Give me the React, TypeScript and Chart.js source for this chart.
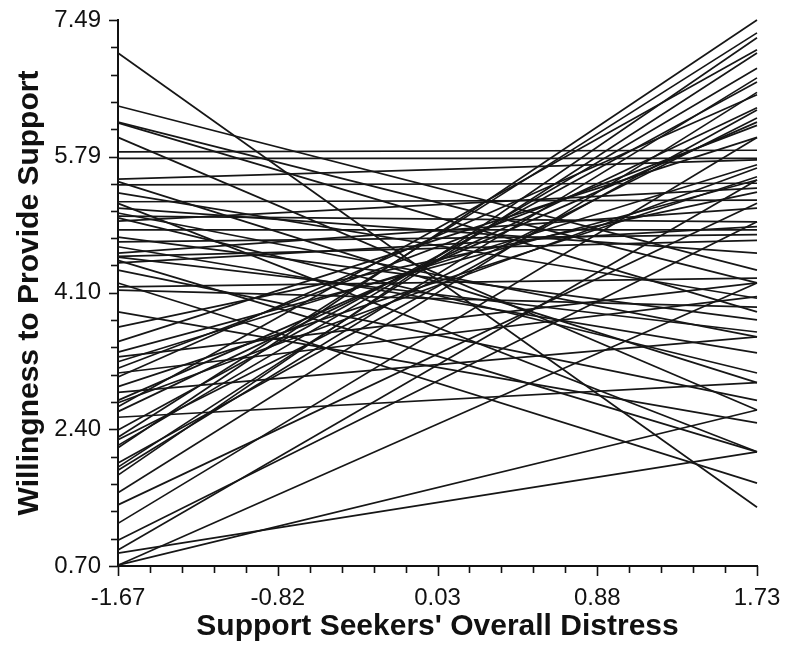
import React, { useEffect, useRef } from 'react';
import { Chart, registerables } from 'chart.js';

Chart.register(...registerables);

// Axis ticks (major)
const xTickValues = [-1.67, -0.82, 0.03, 0.88, 1.73];
const yTickValues = [0.7, 2.4, 4.1, 5.79, 7.49];

// The two x positions each line is drawn between
const xStart = -1.67;
const xEnd = 1.73;

// Line values at the left edge (x = -1.67)
const leftValues = [
  7.08, 6.42, 6.22, 6.21, 6.03, 5.85, 5.77, 5.51, 5.48, 5.44,
  5.34, 5.23, 5.21, 5.15, 5.09, 5.05, 5.03, 4.99, 4.88, 4.79,
  4.73, 4.67, 4.59, 4.55, 4.54, 4.5, 4.47, 4.38, 4.22, 4.17,
  4.13, 3.86, 3.67, 3.49, 3.36, 3.3, 3.24, 3.16, 3.1, 3.05,
  2.93, 2.86, 2.76, 2.73, 2.68, 2.62, 2.55, 2.39, 2.3, 2.27,
  2.2, 2.17, 1.98, 1.93, 1.89, 1.83, 1.61, 1.46, 1.23, 1.02,
  0.9, 0.86, 0.71, 0.71,
];

// Line values at the right edge (x = 1.73)
const rightValues = [
  1.43, 4.38, 4.22, 3.86, 2.64, 5.87, 5.77, 5.75, 2.98, 5.46,
  4.03, 5.25, 2.12, 4.59, 3.55, 4.98, 3.1, 5.4, 4.88, 3.76,
  4.82, 3.35, 5.15, 4.75, 3.61, 2.12, 4.92, 2.76, 1.73, 4.28,
  3.92, 2.48, 5.35, 6.03, 5.5, 4.22, 5.69, 6.18, 4.05, 6.56,
  5.54, 3.55, 6.22, 5.65, 7.12, 6.4, 2.98, 6.72, 7.33, 6.27,
  6.89, 7.49, 6.37, 7.08, 6.77, 7.27, 6.59, 5.21, 6.03, 4.98,
  5.5, 2.12, 2.64, 4.22,
];

const xTitle = "Support Seekers' Overall Distress";
const yTitle = 'Willingness to Provide Support';

const FONT = '"Liberation Sans", Arial, Helvetica, sans-serif';

function withMinor(majors: number[], parts: number) {
  const out: { v: number; major: boolean }[] = [];
  for (let i = 0; i < majors.length; i++) {
    out.push({ v: majors[i], major: true });
    if (i < majors.length - 1) {
      const step = (majors[i + 1] - majors[i]) / parts;
      for (let k = 1; k < parts; k++) out.push({ v: majors[i] + step * k, major: false });
    }
  }
  return out;
}

const tickPlugin = {
  id: 'axisTicks',
  afterDraw(chart: any) {
    const { ctx, scales } = chart;
    const xs = scales.x;
    const ys = scales.y;
    ctx.save();
    ctx.strokeStyle = '#111';
    ctx.lineWidth = 1.6;
    const axisY = ys.getPixelForValue(yTickValues[0]);
    const axisX = xs.getPixelForValue(xTickValues[0]);
    for (const t of withMinor(xTickValues, 5)) {
      const px = Math.round(xs.getPixelForValue(t.v)) + 0.5;
      ctx.beginPath();
      ctx.moveTo(px, axisY);
      ctx.lineTo(px, axisY + (t.major ? 10 : 7));
      ctx.stroke();
    }
    for (const t of withMinor(yTickValues, 5)) {
      const py = Math.round(ys.getPixelForValue(t.v)) + 0.5;
      ctx.beginPath();
      ctx.moveTo(axisX, py);
      ctx.lineTo(axisX - (t.major ? 9 : 7), py);
      ctx.stroke();
    }
    ctx.restore();
  },
};

export default function App() {
  const canvasRef = useRef<HTMLCanvasElement | null>(null);

  useEffect(() => {
    document.body.style.margin = '0';
    const canvas = canvasRef.current;
    if (!canvas) return;
    const datasets = leftValues.map((l, i) => ({
      data: [
        { x: xStart, y: l },
        { x: xEnd, y: rightValues[i] },
      ],
      showLine: true,
      borderColor: '#161616',
      borderWidth: 1.7,
      pointRadius: 0,
      fill: false,
      clip: false as any,
    }));
    const chart = new Chart(canvas, {
      type: 'scatter',
      data: { datasets },
      options: {
        responsive: false,
        animation: false,
        devicePixelRatio: 1,
        layout: { autoPadding: false, padding: { top: 20, right: 31, bottom: 0, left: 0 } },
        plugins: {
          legend: { display: false },
          tooltip: { enabled: false },
        },
        scales: {
          x: {
            type: 'linear',
            min: xStart,
            max: xEnd,
            afterBuildTicks: (scale: any) => {
              scale.ticks = xTickValues.map((v) => ({ value: v }));
            },
            afterFit: (scale: any) => {
              scale.height = 90;
              scale.paddingLeft = 0;
              scale.paddingRight = 0;
            },
            grid: { display: false, drawTicks: false },
            border: { display: true, color: '#111', width: 2 },
            ticks: {
              padding: 18,
              color: '#111',
              font: { family: FONT, size: 24 },
              maxRotation: 0,
              autoSkip: false,
              callback: (_v: any, i: number) => xTickValues[i].toFixed(2),
            },
            title: {
              display: true,
              text: xTitle,
              color: '#111',
              font: { family: FONT, size: 30, weight: 'bold' },
              padding: { top: 0, bottom: 11 },
            },
          },
          y: {
            type: 'linear',
            min: yTickValues[0],
            max: yTickValues[yTickValues.length - 1],
            afterBuildTicks: (scale: any) => {
              scale.ticks = yTickValues.map((v) => ({ value: v }));
            },
            afterFit: (scale: any) => {
              scale.width = 118;
              scale.paddingTop = 0;
              scale.paddingBottom = 0;
            },
            grid: { display: false, drawTicks: false },
            border: { display: true, color: '#111', width: 2 },
            ticks: {
              padding: 17,
              color: '#111',
              font: { family: FONT, size: 24 },
              autoSkip: false,
              callback: (_v: any, i: number) => yTickValues[i].toFixed(2),
            },
            title: {
              display: true,
              text: yTitle,
              color: '#111',
              font: { family: FONT, size: 30, weight: 'bold' },
              padding: { top: 12, bottom: 0 },
            },
          },
        },
      },
      plugins: [tickPlugin],
    });
    return () => chart.destroy();
  }, []);

  return (
    <div style={{ position: 'absolute', left: 0, top: 0, width: 788, height: 656, background: '#fff' }}>
      <canvas ref={canvasRef} width={788} height={656} style={{ width: 788, height: 656, display: 'block' }} />
    </div>
  );
}
